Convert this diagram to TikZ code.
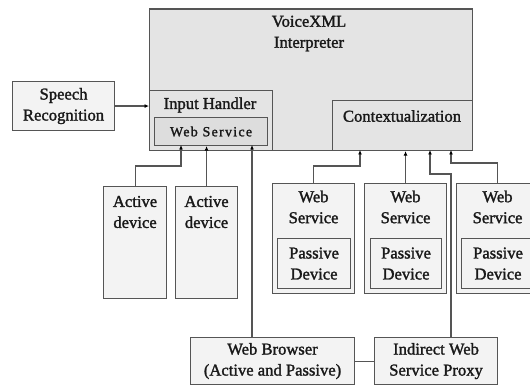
\documentclass[tikz,border=0pt]{standalone}
\usepackage{fontspec}
\setmainfont{Liberation Serif}[FakeBold=1.6]
\usepackage{tikz}
\usetikzlibrary{
  arrows.meta,
  positioning
}
\definecolor{linegray}{HTML}{555555}
\definecolor{darkfill}{HTML}{E4E4E4}
\definecolor{lightfill}{HTML}{F3F3F3}
\definecolor{wsfill}{HTML}{DDDDDD}
\tikzset{
  box/.style={draw=linegray, line width=1.1pt, fill=lightfill, inner sep=0pt, anchor=north west},
  darkbox/.style={box, fill=darkfill},
  txt/.style={align=center, inner sep=0pt, text=black!90, font=\fontsize{16.6}{21}\selectfont},
  small/.style={txt, font=\fontsize{14}{16}\selectfont\addfontfeatures{LetterSpace=9}},
  link/.style={draw=linegray, line width=1.1pt},
  arr/.style={link, -{Latex[length=4.5pt,width=4pt,black]}}
}
\begin{document}
\begin{tikzpicture}[x=1pt, y=-1pt]
    \useasboundingbox (0,0) rectangle (530,385);
    \clip (0,0) rectangle (530,385);
    \fill[white] (0,0) rectangle (530,385);
    \node[darkbox, minimum width=323pt, minimum height=141.5pt] (vxml) at (149,8.5) {};
    \node[txt] (vxmltxt) at (309,33.5) {VoiceXML\\Interpreter};
    \node[box, minimum width=102pt, minimum height=49pt] (speech) at (12,81) {};
    \node[txt] (speechtxt) at (speech.center) {Speech\\Recognition};
    \node[darkbox, minimum width=123pt, minimum height=60pt] (input) at (149,90) {};
    \node[txt] (inputtxt) at (210,105) {Input Handler};
    \node[darkbox, fill=wsfill, minimum width=113pt, minimum height=28pt] (wsin) at (154,117) {};
    \node[small] (wsintxt) at (wsin.center) {Web Service};
    \node[darkbox, minimum width=140pt, minimum height=50pt] (ctx) at (332,100) {};
    \node[txt] (ctxtxt) at (402,116) {Contextualization};
    \node[box, minimum width=63pt, minimum height=112pt] (ad1) at (103,186) {};
    \node[txt] (ad1txt) at ([yshift=-26pt]ad1.north) {Active\\device};
    \node[box, minimum width=62pt, minimum height=112pt] (ad2) at (175,186) {};
    \node[txt] (ad2txt) at ([yshift=-26pt]ad2.north) {Active\\device};
    \node[box, minimum width=82pt, minimum height=110pt] (ws1) at (272,183) {};
    \node[txt] (ws1txt) at ([yshift=-24pt]ws1.north) {Web\\Service};
    \node[box, minimum width=73pt, minimum height=50pt] (pd1) at (277,238) {};
    \node[txt] (pd1txt) at (pd1.center) {Passive\\Device};
    \node[box, minimum width=82pt, minimum height=110pt] (ws2) at (364,183) {};
    \node[txt] (ws2txt) at ([yshift=-24pt]ws2.north) {Web\\Service};
    \node[box, minimum width=71pt, minimum height=50pt] (pd2) at (370,238) {};
    \node[txt] (pd2txt) at (pd2.center) {Passive\\Device};
    \node[box, minimum width=82pt, minimum height=110pt] (ws3) at (456,183) {};
    \node[txt] (ws3txt) at ([yshift=-24pt]ws3.north) {Web\\Service};
    \node[box, minimum width=73pt, minimum height=50pt] (pd3) at (461,238) {};
    \node[txt] (pd3txt) at (pd3.center) {Passive\\Device};
    \node[box, minimum width=164pt, minimum height=47pt] (browser) at (190,337) {};
    \node[txt] (browsertxt) at (browser.center) {Web Browser\\(Active and Passive)};
    \node[box, minimum width=123pt, minimum height=47pt] (proxy) at (374,337) {};
    \node[txt] (proxytxt) at (proxy.center) {Indirect Web\\Service Proxy};
    \coordinate (wsa) at (181,145);
    \coordinate (wsb) at (252,145);
    \coordinate (ctxa) at (360,150);
    \coordinate (ctxb) at (430,150);
    \coordinate (ctxc) at (451,150);
    \draw[arr] (speech.east) -- (speech.east -| input.west);
    \draw[arr] (ad1.north) -- ++(0,-20) -| (wsa);
    \draw[arr] (ad2.north) -- (ad2.north |- wsin.south);
    \draw[arr] (wsb |- browser.north) -- (wsb);
    \draw[arr] (ws1.north) -- ++(0,-17) -| (ctxa);
    \draw[arr] (ws2.north) -- (ws2.north |- ctx.south);
    \draw[arr] (ctxc |- proxy.north) -- ++(0,-163) -| (ctxb);
    \draw[arr] (ws3.north) -- ++(0,-20) -| (ctxc);
    \draw[link] (browser.east) -- (proxy.west);
\end{tikzpicture}
\end{document}
